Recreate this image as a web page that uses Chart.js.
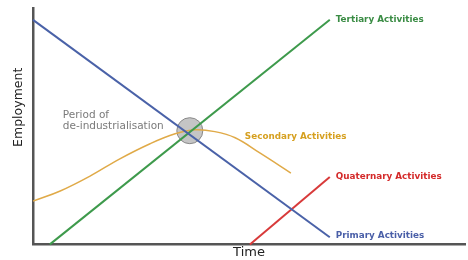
<!DOCTYPE html>
<html>
<head>
<meta charset="utf-8">
<script src="https://cdn.jsdelivr.net/npm/chart.js@4.4.1/dist/chart.umd.min.js"></script>
<style>
  html, body { margin: 0; padding: 0; background: #fff; }
  #wrap { width: 468px; height: 260px; }
</style>
</head>
<body>
<div id="wrap"><canvas id="chart"></canvas></div>
<script>
// sector employment over time (arbitrary units, 0-100)
const primaryX = [0, 68.7];
const primaryY = [95, 3];
const tertiaryX = [3.9, 68.7];
const tertiaryY = [0, 95];
const secondaryX = [0, 6.3, 13.2, 20.1, 27.1, 32.9, 37.5, 42.1, 46.8, 52.5, 59.7];
const secondaryY = [18.3, 22.6, 28.9, 36.2, 42.6, 46.8, 48.5, 47.7, 45.1, 38.7, 30.2];
const quaternaryX = [50.2, 68.7];
const quaternaryY = [0, 28.5];
const deindustrial = { x: 36.3, y: 48.1 };

const seriesNames = ["Primary Activities", "Tertiary Activities", "Secondary Activities", "Quaternary Activities"];
const colors = ["#4a62a8", "#3e9a4c", "#e0aa48", "#d83a3a"];
const labelColors = ["#4a5fa8", "#3a8c44", "#d6a020", "#d42a2a"];

function toPoints(xs, ys) {
  return xs.map((x, i) => ({ x: x, y: ys[i] }));
}

// draws the series names next to the lines, plus the y axis title
const labelPlugin = {
  id: "labels",
  afterDatasetsDraw(chart) {
    const ctx = chart.ctx;
    ctx.save();
    ctx.textBaseline = "middle";
    ctx.font = "bold 8.8px 'DejaVu Sans', sans-serif";
    const anchors = [
      { ds: 0, idx: 1, dx: 6, dy: -2 },
      { ds: 1, idx: 1, dx: 6, dy: 0 },
      { ds: 2, idx: 7, dx: 30, dy: 5 },
      { ds: 3, idx: 1, dx: 6, dy: 0 }
    ];
    anchors.forEach(a => {
      const el = chart.getDatasetMeta(a.ds).data[a.idx];
      ctx.fillStyle = labelColors[a.ds];
      ctx.fillText(seriesNames[a.ds], el.x + a.dx, el.y + a.dy);
    });
    const c = chart.getDatasetMeta(4).data[0];
    ctx.font = "10.5px 'DejaVu Sans', sans-serif";
    ctx.fillStyle = "#7a7a7a";
    ctx.fillText("Period of", c.x - 127, c.y - 15);
    ctx.fillText("de-industrialisation", c.x - 127, c.y - 4);

    // y axis title, sits a bit above the middle like the original
    const area = chart.chartArea;
    ctx.translate(area.left - 14, area.top + (area.bottom - area.top) * 0.42);
    ctx.rotate(-Math.PI / 2);
    ctx.textAlign = "center";
    ctx.fillStyle = "#222";
    ctx.font = "12.5px 'DejaVu Sans', sans-serif";
    ctx.fillText("Employment", 0, 0);
    ctx.restore();
  }
};

new Chart(document.getElementById("chart"), {
  type: "scatter",
  data: {
    datasets: [
      { data: toPoints(primaryX, primaryY), showLine: true, borderColor: colors[0], borderWidth: 2, pointRadius: 0 },
      { data: toPoints(tertiaryX, tertiaryY), showLine: true, borderColor: colors[1], borderWidth: 2, pointRadius: 0 },
      { data: toPoints(secondaryX, secondaryY), showLine: true, borderColor: colors[2], borderWidth: 1.5, pointRadius: 0, tension: 0.4 },
      { data: toPoints(quaternaryX, quaternaryY), showLine: true, borderColor: colors[3], borderWidth: 2, pointRadius: 0 },
      { data: [deindustrial], pointRadius: 13, backgroundColor: "rgba(150,150,150,0.55)", borderColor: "#888", borderWidth: 1 }
    ]
  },
  options: {
    responsive: true,
    maintainAspectRatio: false,
    animation: false,
    clip: false,
    layout: { autoPadding: false, padding: { left: 33, top: 8, right: 3, bottom: 0 } },
    plugins: { legend: { display: false }, tooltip: { enabled: false } },
    scales: {
      x: {
        type: "linear", min: 0, max: 100,
        grid: { display: false, drawTicks: false },
        ticks: { display: false, padding: 0 },
        border: { display: true, color: "#555", width: 2.5 },
        title: { display: true, text: "Time", color: "#222", font: { size: 13, family: "'DejaVu Sans', sans-serif" }, padding: { top: 0, bottom: 0 } }
      },
      y: {
        type: "linear", min: 0, max: 100,
        grid: { display: false, drawTicks: false },
        ticks: { display: false, padding: 0 },
        border: { display: true, color: "#555", width: 2.5 },
        title: { display: false }
      }
    }
  },
  plugins: [labelPlugin]
});
</script>
</body>
</html>
